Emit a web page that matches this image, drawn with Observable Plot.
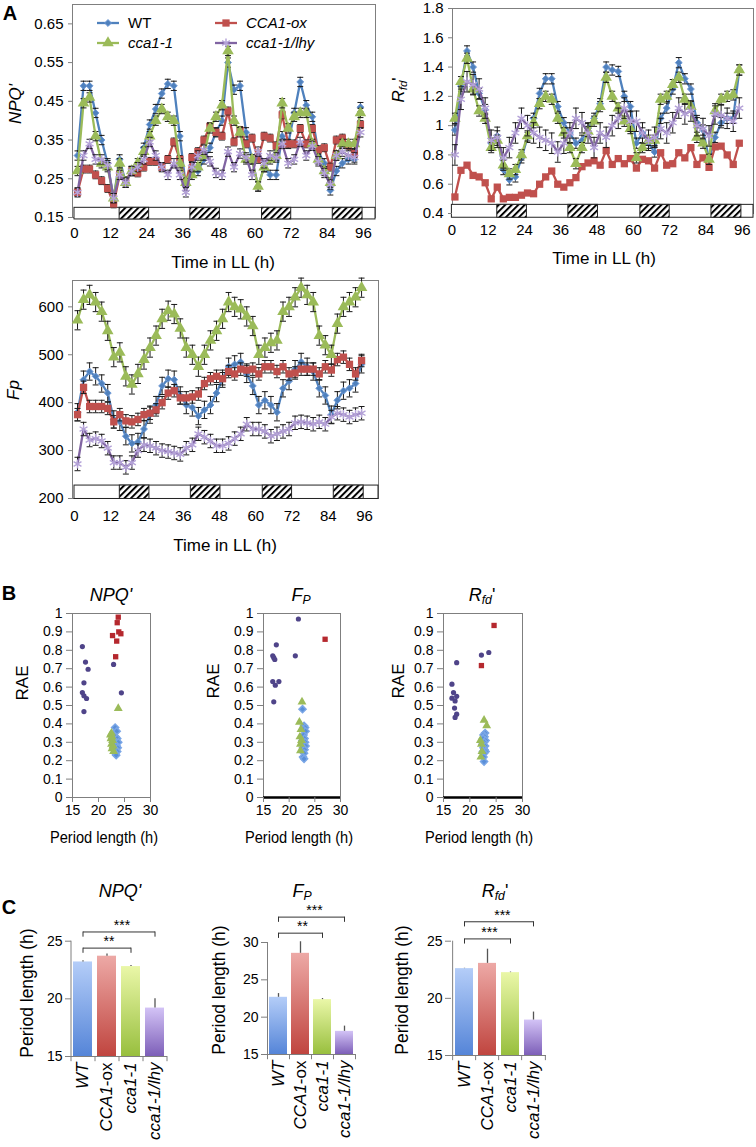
<!DOCTYPE html>
<html><head><meta charset="utf-8">
<script src="https://cdn.jsdelivr.net/npm/d3@7"></script>
<script src="https://cdn.jsdelivr.net/npm/@observablehq/plot@0.6"></script>
<style>
body{margin:0;background:#fff;}
#page{position:relative;width:756px;height:1147px;overflow:hidden;font-family:Arial,"Liberation Sans",sans-serif;color:#000;background:#fff;}
.lbl{position:absolute;white-space:nowrap;line-height:1;}
.lbl sub{font-size:0.68em;vertical-align:-0.28em;line-height:0;}
</style></head><body>
<svg width="0" height="0" style="position:absolute">
<defs>
<pattern id="hatch" patternUnits="userSpaceOnUse" width="4.6" height="4.6" patternTransform="rotate(45)">
<rect width="4.6" height="4.6" fill="#fff"/><line x1="1" y1="0" x2="1" y2="4.6" stroke="#000" stroke-width="2"/>
</pattern>
<linearGradient id="bar0" x1="0" y1="0" x2="0" y2="1"><stop offset="0" stop-color="#b4cdf8"/><stop offset="1" stop-color="#5585d8"/></linearGradient>
<linearGradient id="bar1" x1="0" y1="0" x2="0" y2="1"><stop offset="0" stop-color="#eda9a6"/><stop offset="1" stop-color="#c0453f"/></linearGradient>
<linearGradient id="bar2" x1="0" y1="0" x2="0" y2="1"><stop offset="0" stop-color="#eaf7a8"/><stop offset="1" stop-color="#98bf3e"/></linearGradient>
<linearGradient id="bar3" x1="0" y1="0" x2="0" y2="1"><stop offset="0" stop-color="#d3c3f6"/><stop offset="1" stop-color="#7d5fb8"/></linearGradient>
</defs></svg>
<div id="page"></div>
<script>
// ---------------- DATA ----------------
const genotypes = ["WT", "CCA1-ox", "cca1-1", "cca1-1/lhy"];
const hours = [1,3,5,7,9,11,13,15,17,19,21,23,25,27,29,31,33,35,37,39,41,43,45,47,49,51,53,55,57,59,61,63,65,67,69,71,73,75,77,79,81,83,85,87,89,91,93,95];
const xTicksA = [0,12,24,36,48,60,72,84,96];
const nightStart = [15, 38.5, 62.3, 85.8];
const nightEnd = [24.8, 48.3, 72, 95.7];

const npq_WT  = [0.31,0.49,0.49,0.42,0.35,0.29,0.20,0.30,0.24,0.27,0.28,0.33,0.39,0.43,0.47,0.495,0.49,0.36,0.23,0.27,0.27,0.30,0.33,0.37,0.40,0.55,0.48,0.49,0.37,0.30,0.23,0.28,0.26,0.26,0.36,0.34,0.42,0.50,0.44,0.41,0.32,0.29,0.22,0.27,0.29,0.30,0.30,0.435];
const npq_ox  = [0.215,0.275,0.275,0.26,0.245,0.225,0.185,0.26,0.245,0.27,0.265,0.28,0.295,0.295,0.28,0.30,0.345,0.30,0.24,0.305,0.32,0.35,0.385,0.37,0.36,0.425,0.345,0.375,0.34,0.355,0.30,0.36,0.355,0.335,0.415,0.34,0.34,0.38,0.34,0.38,0.325,0.33,0.28,0.35,0.355,0.335,0.315,0.39];
const npq_cca = [0.27,0.445,0.46,0.36,0.29,0.28,0.20,0.29,0.24,0.27,0.29,0.32,0.36,0.40,0.43,0.41,0.40,0.29,0.24,0.26,0.28,0.31,0.38,0.41,0.44,0.58,0.40,0.37,0.30,0.30,0.23,0.28,0.30,0.31,0.445,0.38,0.41,0.42,0.42,0.34,0.30,0.27,0.24,0.31,0.34,0.34,0.34,0.42];
const npq_lhy = [0.215,0.31,0.34,0.30,0.30,0.285,0.20,0.26,0.24,0.27,0.28,0.30,0.345,0.31,0.28,0.26,0.29,0.26,0.215,0.28,0.31,0.325,0.295,0.265,0.26,0.32,0.28,0.315,0.305,0.26,0.32,0.29,0.31,0.305,0.34,0.29,0.30,0.345,0.31,0.335,0.295,0.265,0.235,0.31,0.32,0.31,0.305,0.37];
const npq_se  = [0.012, 0.010, 0.012, 0.012];

const rfd_WT  = [0.97,1.27,1.51,1.40,1.22,1.11,0.88,0.93,0.70,0.63,0.65,0.78,0.92,1.05,1.22,1.32,1.32,1.13,1.02,0.95,0.88,0.90,0.98,1.05,1.15,1.40,1.38,1.37,1.20,1.13,0.88,0.95,0.88,0.82,1.05,1.12,1.25,1.43,1.32,1.25,1.02,0.97,0.77,0.92,1.02,1.05,1.05,1.38];
const rfd_ox  = [0.513,0.695,0.73,0.66,0.65,0.61,0.50,0.58,0.50,0.51,0.51,0.525,0.54,0.535,0.60,0.65,0.69,0.60,0.58,0.61,0.645,0.72,0.745,0.76,0.73,0.83,0.735,0.775,0.74,0.775,0.71,0.77,0.76,0.71,0.815,0.73,0.74,0.815,0.78,0.85,0.735,0.78,0.715,0.855,0.86,0.80,0.735,0.88];
const rfd_cca = [1.05,1.30,1.46,1.25,1.10,1.05,0.85,0.90,0.73,0.67,0.70,0.80,0.93,1.02,1.15,1.20,1.18,1.05,0.95,0.85,0.74,0.85,0.96,1.03,1.13,1.33,1.20,1.12,1.03,0.98,0.78,0.85,0.90,0.90,1.18,1.20,1.28,1.33,1.18,1.13,0.92,0.88,0.77,1.10,1.18,1.20,1.21,1.38];
const rfd_lhy = [0.80,1.18,1.30,1.28,1.25,1.12,0.90,0.92,0.78,0.85,0.95,1.05,1.00,0.95,0.92,0.90,0.88,0.82,0.88,0.95,1.05,1.02,0.95,0.85,0.95,0.92,1.00,1.05,1.12,1.03,1.03,0.95,0.90,0.92,0.98,0.95,1.02,1.12,1.08,1.10,1.00,0.98,0.93,1.08,1.07,1.05,1.03,1.12];
const rfd_se  = [0.035, 0.015, 0.035, 0.07];

const fp_WT  = [380,448,465,455,440,420,365,360,330,315,318,345,375,395,435,450,448,415,395,390,372,385,395,420,450,475,480,485,460,435,395,405,395,380,430,445,470,485,475,465,430,415,375,405,425,430,440,480];
const fp_ox  = [375,432,392,392,392,388,360,375,362,360,365,375,378,385,400,420,425,410,410,412,418,440,450,455,450,465,460,470,468,470,460,475,475,465,475,460,462,470,470,470,460,475,468,490,495,480,460,488];
const fp_cca = [572,615,625,610,590,550,495,505,455,438,460,490,515,540,575,592,585,555,515,500,475,500,530,550,575,610,600,595,580,560,500,515,525,530,590,600,620,640,625,610,540,520,500,565,600,610,620,640];
const fp_lhy = [272,345,322,325,320,305,275,275,265,275,300,312,310,305,300,298,295,292,305,312,335,328,320,310,310,315,325,335,355,345,345,340,330,335,340,345,358,360,358,355,360,355,370,378,375,370,375,378];
const fp_se  = [18, 13, 20, 14];

// Panel B: [period (h), RAE]
const npqRAE_wt  = [[23.2,0.38],[23.5,0.36],[22.9,0.34],[23.3,0.33],[23.6,0.32],[23.0,0.31],[23.4,0.30],[23.8,0.30],[23.1,0.29],[23.5,0.28],[22.9,0.27],[23.7,0.27],[23.3,0.26],[23.6,0.25],[23.2,0.24],[23.4,0.23]];
const npqRAE_ox  = [[23.8,0.98],[23.6,0.95],[23.9,0.90],[24.3,0.89],[22.7,0.88],[23.5,0.85],[23.3,0.765]];
const npqRAE_cca = [[23.8,0.484],[22.5,0.35],[22.3,0.34],[22.6,0.33],[22.4,0.32],[22.7,0.31],[22.5,0.29],[22.8,0.28],[22.6,0.265],[22.9,0.25]];
const npqRAE_lhy = [[16.9,0.82],[17.5,0.736],[18.0,0.697],[17.2,0.623],[16.9,0.57],[17.2,0.553],[17.7,0.538],[17.2,0.467],[22.9,0.723],[24.4,0.569]];

const fpRAE_wt  = [[22.6,0.48],[22.9,0.39],[23.1,0.38],[22.7,0.37],[23.2,0.36],[22.8,0.34],[23.0,0.32],[22.6,0.31],[23.1,0.30],[22.8,0.29],[23.2,0.28],[22.7,0.27],[23.0,0.26],[22.9,0.24],[22.7,0.22],[22.9,0.21]];
const fpRAE_ox  = [[27.0,0.86]];
const fpRAE_cca = [[22.5,0.52],[22.0,0.41],[22.3,0.37],[22.1,0.33],[22.4,0.31],[22.2,0.29],[22.2,0.255]];
const fpRAE_lhy = [[21.8,0.97],[17.5,0.83],[16.8,0.77],[17.0,0.76],[17.2,0.75],[16.8,0.63],[17.3,0.61],[18.0,0.63],[17.0,0.52],[21.2,0.77]];

const rfdRAE_wt  = [[22.9,0.35],[22.6,0.34],[22.8,0.33],[22.5,0.32],[23.0,0.31],[22.7,0.30],[22.4,0.29],[22.9,0.28],[22.6,0.27],[22.8,0.26],[23.0,0.25],[22.5,0.25],[22.7,0.24],[22.6,0.22],[22.7,0.195]];
const rfdRAE_ox  = [[24.6,0.935],[22.2,0.717]];
const rfdRAE_cca = [[22.7,0.42],[23.2,0.39],[22.0,0.31],[22.2,0.29],[22.3,0.25],[22.1,0.22]];
const rfdRAE_lhy = [[17.5,0.733],[16.6,0.616],[16.9,0.57],[17.5,0.55],[16.6,0.54],[17.2,0.525],[17.1,0.486],[17.5,0.453],[17.2,0.435],[22.2,0.774],[23.6,0.788]];

const raeTicks = [0,0.1,0.2,0.3,0.4,0.5,0.6,0.7,0.8,0.9,1];
const periodTicks = [15,20,25,30];

// Panel C: mean period and SE
const periodNPQ = [23.2, 23.7, 22.8, 19.2];
const periodNPQ_se = [0.1, 0.2, 0.1, 0.8];
const periodFp = [22.66, 28.55, 22.35, 18.1];
const periodFp_se = [0.5, 1.55, 0.15, 0.7];
const periodRfd = [22.6, 23.06, 22.25, 18.1];
const periodRfd_se = [0.03, 1.24, 0.05, 0.7];
const sigNPQ = [{from:"WT", to:"cca1-1", y:24.4, label:"**"}, {from:"WT", to:"cca1-1/lhy", y:25.8, label:"***"}];
const sigFp  = [{from:"WT", to:"cca1-1", y:31.25, label:"**"}, {from:"WT", to:"cca1-1/lhy", y:33.4, label:"***"}];
const sigRfd = [{from:"WT", to:"cca1-1", y:25.2, label:"***"}, {from:"WT", to:"cca1-1/lhy", y:26.7, label:"***"}];

// ---------------- STYLE ----------------
const FONT = 'Arial, "Liberation Sans", sans-serif';
const NARROW = '"Liberation Sans Narrow", "Arial Narrow", Arial, "Liberation Sans", sans-serif';
const lineColors = ["#4f81bd", "#c0504d", "#9bbb59", "#8064a2"];
const markerOpts = [
  {symbol: "diamond2", fill: "#4f81bd", stroke: "#6f9ad6", r: 3.1, strokeWidth: 1},
  {symbol: "square", fill: "#c0504d", r: 4.1},
  {symbol: "triangle", fill: "#9bbb59", r: 4.3},
  {symbol: "asterisk", fill: "none", stroke: "#b4a2d8", r: 4.3, strokeWidth: 1.4}
];
const capSymbol = {draw(ctx, size) { const r = Math.sqrt(size / Math.PI); ctx.moveTo(-r, 0); ctx.lineTo(r, 0); }};
const page = document.getElementById("page");

function place(el, left, top) {
  el.style.position = "absolute"; el.style.left = left + "px"; el.style.top = top + "px";
  page.appendChild(el); return el;
}
function label(html, x, y, o = {}) {
  const d = document.createElement("div");
  d.className = "lbl";
  d.innerHTML = html;
  d.style.left = x + "px"; d.style.top = y + "px";
  d.style.fontSize = (o.size || 16) + "px";
  if (o.bold) d.style.fontWeight = "bold";
  if (o.italic) d.style.fontStyle = "italic";
  if (o.family) d.style.fontFamily = o.family;
  d.style.transform = "translate(-50%,-50%)" + (o.rotate ? ` rotate(${o.rotate}deg)` : "") + (o.sx ? ` scale(${o.sx},1)` : "");
  page.appendChild(d);
}

// ---------------- PANEL A ----------------
function timePanel(c) {
  const marks = [
    Plot.frame({stroke: "#7f7f7f"}),
    Plot.rect([0], {x1: 0, x2: c.xDomain[1], y1: c.bar[0], y2: c.bar[1], fill: "#fff", stroke: "#222", strokeWidth: 1}),
    Plot.rect(nightStart.map((s, i) => ({s, e: nightEnd[i]})), {x1: "s", x2: "e", y1: c.bar[0], y2: c.bar[1], fill: "url(#hatch)", stroke: "#222", strokeWidth: 1}),
    Plot.axisX({ticks: xTicksA, tickSize: 0, tickPadding: c.xPad, fontSize: 15, label: null}),
    Plot.axisY({ticks: c.yTicks, tickSize: 4, tickPadding: 5, tickFormat: d3.format("~g"), fontSize: 15, stroke: "#7f7f7f", label: null})
  ];
  c.series.forEach((vals, k) => {
    const d = hours.map((t, i) => ({t, v: vals[i]}));
    const se = c.se[k];
    marks.push(Plot.line(d, {x: "t", y: "v", stroke: lineColors[k], strokeWidth: 2.3}));
    marks.push(Plot.ruleX(d, {x: "t", y1: r => r.v - se, y2: r => r.v + se, stroke: "#1a1a1a", strokeWidth: 1}));
    marks.push(Plot.dot(d, {x: "t", y: r => r.v + se, symbol: capSymbol, r: 3, fill: "none", stroke: "#1a1a1a", strokeWidth: 1}));
    marks.push(Plot.dot(d, {x: "t", y: r => r.v - se, symbol: capSymbol, r: 3, fill: "none", stroke: "#1a1a1a", strokeWidth: 1}));
    marks.push(Plot.dot(d, {x: "t", y: "v", ...markerOpts[k]}));
  });
  const svg = Plot.plot({
    width: c.w, height: c.h, marginLeft: c.mL, marginRight: c.mR, marginTop: c.mT, marginBottom: c.mB,
    x: {domain: c.xDomain}, y: {domain: c.yDomain},
    style: {fontFamily: FONT, fontSize: "15px", color: "#000", background: "transparent", overflow: "visible"},
    marks
  });
  place(svg, c.left, c.top);
}

timePanel({series: [npq_WT, npq_ox, npq_cca, npq_lhy], se: npq_se, xDomain: [-0.66, 100], yDomain: [0.15, 0.70],
  yTicks: [0.15,0.25,0.35,0.45,0.55,0.65], bar: [0.145, 0.175], xPad: 10,
  left: 0, top: 0, w: 390, h: 280, mL: 72, mR: 15, mT: 4, mB: 63});
timePanel({series: [rfd_WT, rfd_ox, rfd_cca, rfd_lhy], se: rfd_se, xDomain: [0.2, 99.7], yDomain: [0.4, 1.8],
  yTicks: [0.4,0.6,0.8,1,1.2,1.4,1.6,1.8], bar: [0.371, 0.459], xPad: 11,
  left: 390, top: 0, w: 366, h: 280, mL: 62, mR: 3, mT: 8, mB: 67});
timePanel({series: [fp_WT, fp_ox, fp_cca, fp_lhy], se: fp_se, xDomain: [-0.66, 100.6], yDomain: [200, 655],
  yTicks: [200,300,400,500,600], bar: [199, 227], xPad: 12,
  left: 0, top: 270, w: 390, h: 300, mL: 72, mR: 12, mT: 10, mB: 72});

// legend (inside NPQ panel)
(function () {
  const leg = d3.create("svg").attr("width", 390).attr("height", 60);
  const symMap = {diamond2: d3.symbolDiamond2, square: d3.symbolSquare, triangle: d3.symbolTriangle, asterisk: d3.symbolAsterisk};
  const pos = [[97, 23], [215, 23], [97, 43], [215, 43]];
  genotypes.forEach((g, k) => {
    const [x, y] = pos[k];
    leg.append("line").attr("x1", x).attr("x2", x + 22).attr("y1", y).attr("y2", y).attr("stroke", lineColors[k]).attr("stroke-width", 2.3);
    const m = markerOpts[k];
    leg.append("path").attr("transform", `translate(${x + 11},${y})`)
      .attr("d", d3.symbol(symMap[m.symbol], m.r * m.r * Math.PI)())
      .attr("fill", m.fill).attr("stroke", m.stroke || "none").attr("stroke-width", m.strokeWidth || 1);
    leg.append("text").attr("x", x + 31).attr("y", y).attr("dy", "0.36em").attr("font-size", 15)
      .attr("font-family", FONT).attr("font-style", g === "WT" ? "normal" : "italic").text(g);
  });
  place(leg.node(), 0, 0);
})();

label("A", 10, 13, {size: 20, bold: true});
label("NPQ'", 15, 104, {size: 17, italic: true, rotate: -90});
label("Time in LL (h)", 223, 262, {size: 17});
label("<i>R</i><sub><i>fd</i></sub>'", 398, 90, {size: 17, rotate: -90});
label("Time in LL (h)", 604, 258, {size: 17});
label("<i>Fp</i>", 13, 390, {size: 17, rotate: -90});
label("Time in LL (h)", 225, 545, {size: 17});

// ---------------- PANEL B ----------------
function scatterPanel(c) {
  const px = d => d[0], py = d => d[1];
  const marks = [
    Plot.frame({stroke: "#7f7f7f"}),
    c.thick ? Plot.ruleY([0], {stroke: "#000", strokeWidth: 2.5}) : null,
    Plot.axisX({ticks: periodTicks, tickSize: 5, tickPadding: 3, fontSize: 14, fontFamily: NARROW, stroke: "#7f7f7f", label: null}),
    Plot.axisY({ticks: raeTicks, tickSize: 6, tickPadding: 4, tickFormat: d3.format("~g"), fontSize: 14, fontFamily: NARROW, stroke: "#7f7f7f", label: null}),
    Plot.dot(c.lhy, {x: px, y: py, fill: "#4f4489", r: 2.6}),
    Plot.dot(c.ox, {x: px, y: py, symbol: "square", fill: "#b5282e", r: 3}),
    Plot.dot(c.wt, {x: px, y: py, symbol: "diamond2", fill: "#5a8fd8", stroke: "#7aa6e6", r: 3.2}),
    Plot.dot(c.cca, {x: px, y: py, symbol: "triangle", fill: "#9bbb59", r: 3.3})
  ].filter(Boolean);
  const svg = Plot.plot({
    width: c.w, height: 225, marginLeft: c.mL, marginRight: c.mR, marginTop: 13, marginBottom: 28,
    x: {domain: [15, 30]}, y: {domain: [0, 1]},
    style: {fontFamily: FONT, fontSize: "14px", color: "#000", background: "transparent", overflow: "visible"},
    marks
  });
  place(svg, c.left, 600);
}
scatterPanel({wt: npqRAE_wt, ox: npqRAE_ox, cca: npqRAE_cca, lhy: npqRAE_lhy, thick: false, left: 0, w: 165, mL: 72, mR: 15});
scatterPanel({wt: fpRAE_wt, ox: fpRAE_ox, cca: fpRAE_cca, lhy: fpRAE_lhy, thick: true, left: 190, w: 165, mL: 73, mR: 15});
scatterPanel({wt: rfdRAE_wt, ox: rfdRAE_ox, cca: rfdRAE_cca, lhy: rfdRAE_lhy, thick: true, left: 370, w: 165, mL: 73, mR: 13});

label("B", 9, 593, {size: 20, bold: true});
label("NPQ'", 111, 595, {size: 18, italic: true});
label("<i>F</i><sub><i>P</i></sub>", 301, 595, {size: 18});
label("<i>R</i><sub><i>fd</i></sub>'", 482, 595, {size: 18});
[[22, 683], [213, 681], [398, 681]].forEach(([x, y]) => label("RAE", x, y, {size: 17, rotate: -90}));
[[104, 837], [299, 837], [479, 837]].forEach(([x, y]) => label("Period length (h)", x, y, {size: 17, family: NARROW, sx: 0.86}));

// ---------------- PANEL C ----------------
function barPanel(c) {
  const rows = genotypes.map((g, i) => ({g, v: c.vals[i], se: c.se[i], i}));
  const lo = c.yDomain[0];
  const half = (c.w - c.mL - c.mR) / genotypes.length / 2;
  const marks = [
    ...rows.map(r => Plot.barY([r], {x: "g", y1: lo, y2: "v", fill: `url(#bar${r.i})`})),
    Plot.ruleX(rows, {x: "g", y1: "v", y2: r => r.v + r.se, stroke: "#555", strokeWidth: 1.3}),
    Plot.ruleY([lo], {stroke: "#7f7f7f"}),
    Plot.ruleX([genotypes[0]], {dx: -half, y1: lo, y2: c.yDomain[1], stroke: "#7f7f7f"}),
    Plot.ruleX(genotypes, {dx: -half, y1: lo, y2: lo - c.drop, stroke: "#7f7f7f"}),
    Plot.ruleX([genotypes[3]], {dx: half, y1: lo, y2: lo - c.drop, stroke: "#7f7f7f"}),
    Plot.link(c.sig, {x1: "from", x2: "to", y1: "y", y2: "y", stroke: "#333", strokeWidth: 1}),
    Plot.ruleX(c.sig.flatMap(b => [{x: b.from, y: b.y}, {x: b.to, y: b.y}]), {x: "x", y1: "y", y2: d => d.y - c.drop, stroke: "#333", strokeWidth: 1}),
    ...c.sig.map(b => Plot.text([b], {x: () => "CCA1-ox", y: "y", text: "label",
      dx: b.to === "cca1-1" ? 2 : half + 3, dy: -2, lineAnchor: "bottom", fontSize: 14, fontFamily: FONT})),
    Plot.axisX({tickSize: 0, tickPadding: 6, tickRotate: -90, fontSize: 17, fontStyle: "italic", label: null}),
    Plot.axisY({ticks: c.yTicks, tickSize: 6, tickPadding: 3, fontSize: 14, fontFamily: NARROW, stroke: "#7f7f7f", label: null})
  ];
  const svg = Plot.plot({
    width: c.w, height: 247, marginLeft: c.mL, marginRight: c.mR, marginTop: c.mT, marginBottom: c.mB,
    x: {domain: genotypes, paddingInner: 0.2, paddingOuter: 0.1}, y: {domain: c.yDomain},
    style: {fontFamily: FONT, fontSize: "14px", color: "#000", background: "transparent", overflow: "visible"},
    marks
  });
  svg.querySelectorAll("text").forEach(t => {
    if (t.textContent === "CCA1-ox") {
      t.textContent = "";
      const a = document.createElementNS("http://www.w3.org/2000/svg", "tspan");
      a.setAttribute("font-style", "italic"); a.textContent = "CCA1";
      const b = document.createElementNS("http://www.w3.org/2000/svg", "tspan");
      b.setAttribute("font-style", "normal"); b.textContent = "-ox";
      t.appendChild(a); t.appendChild(b);
    }
  });
  place(svg, c.left, 900);
}
barPanel({vals: periodNPQ, se: periodNPQ_se, yDomain: [15, 25], yTicks: [15, 20, 25], sig: sigNPQ, drop: 0.45,
  left: 0, w: 180, mL: 71, mR: 13, mT: 40.7, mB: 91});
barPanel({vals: periodFp, se: periodFp_se, yDomain: [15, 30], yTicks: [15, 20, 25, 30], sig: sigFp, drop: 0.7,
  left: 190, w: 180, mL: 77, mR: 15, mT: 42, mB: 93});
barPanel({vals: periodRfd, se: periodRfd_se, yDomain: [15, 25], yTicks: [15, 20, 25], sig: sigRfd, drop: 0.45,
  left: 375, w: 185, mL: 76, mR: 14, mT: 40.7, mB: 92});

label("C", 9, 907, {size: 20, bold: true});
label("NPQ'", 120, 891, {size: 18, italic: true});
label("<i>F</i><sub><i>P</i></sub>", 302, 891, {size: 18});
label("<i>R</i><sub><i>fd</i></sub>'", 495, 891, {size: 18});
[[28, 993], [220, 990], [403, 990]].forEach(([x, y]) => label("Period length (h)", x, y, {size: 17.5, rotate: -90}));
</script>
</body></html>
